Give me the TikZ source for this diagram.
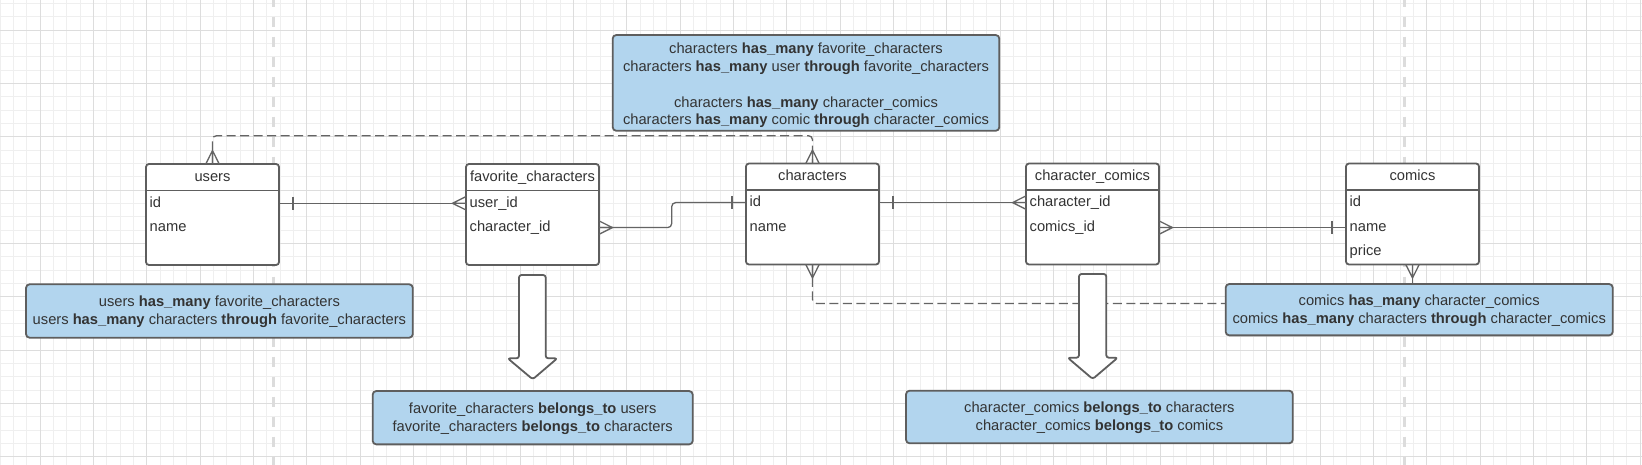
\documentclass[tikz,border=0pt]{standalone}
\usepackage{fontspec}
\setmainfont{Liberation Sans}
\usetikzlibrary{calc}
\definecolor{gridminor}{HTML}{EFEFEF}
\definecolor{gridmajor}{HTML}{DDDDDD}
\definecolor{sepcol}{HTML}{DCDCDC}
\definecolor{bord}{HTML}{5E5E5E}
\definecolor{conncol}{HTML}{646464}
\definecolor{notefill}{HTML}{B2D5EE}
\definecolor{txt}{HTML}{333333}
\pgfdeclarelayer{bg}
\pgfsetlayers{bg,main}
\newcommand{\erdtable}[5]{%
  \node[tbl] (#1) at (#2,#3) {};
  \draw[tblline] ($(#1.north west)+(0,26.5)$) -- ($(#1.north east)+(0,26.5)$);
  \node[anchor=base, inner sep=0pt] (#1-title) at ($(#1.north)+(0,17.4)$) {#4};
  \foreach \rowtext [count=\k] in {#5} {
    \node[anchor=base west, inner sep=0pt] (#1-r\k) at ($(#1.north west)+(3.5,18.8+24.5*\k)$) {\rowtext};
  }%
}
\begin{document}
\begin{tikzpicture}[x=1pt,y=-1pt,
  font=\fontsize{14.7}{17.8}\selectfont, text=txt,
  tbl/.style={draw=bord, line width=1.8pt, rounded corners=3pt, fill=white,
    minimum width=133pt, minimum height=101pt, anchor=north west, inner sep=0pt, outer sep=0pt},
  tblline/.style={draw=bord, line width=1.8pt},
  note/.style={draw=bord, line width=1.8pt, rounded corners=3.5pt, fill=notefill,
    inner sep=0pt, outer sep=0pt},
  notetext/.style={align=center, inner sep=0pt},
  connline/.style={draw=conncol, line width=1.3pt},
  dashconn/.style={draw=conncol, line width=1.3pt, dash pattern=on 9pt off 4.5pt},
  blockarrow/.style={draw=bord, fill=white, line width=1.8pt, rounded corners=2.5pt, line join=round},
  manyW/.pic={\draw[connline] (0,-6.7) -- (-13.5,0) -- (0,6.7) (0,0) -- (-13.5,0);},
  manyE/.pic={\draw[connline] (0,-6.7) -- (13.5,0) -- (0,6.7) (0,0) -- (13.5,0);},
  manyN/.pic={\draw[connline] (-6.7,0) -- (0,-13.5) -- (6.7,0) (0,0) -- (0,-13.5);},
  manyS/.pic={\draw[connline] (-6.7,0) -- (0,13.5) -- (6.7,0) (0,0) -- (0,13.5);},
  oneW/.pic={\draw[connline] (-14,-6.7) -- (-14,6.7);},
  oneE/.pic={\draw[connline] (14,-6.7) -- (14,6.7);}
]
\useasboundingbox (0,0) rectangle (1642,465);

% ---------- background grid ----------
\begin{pgfonlayer}{bg}
  \fill[white] (0,0) rectangle (1642,465);
  \begin{scope}
    \clip (0,0) rectangle (1642,465);
    \foreach \i in {0,...,124} {\draw[gridminor, line width=0.9pt] (\i*13.3333,0) -- (\i*13.3333,465);}
    \foreach \i in {0,...,35} {\draw[gridminor, line width=0.9pt] (0,3.3333+\i*13.3333) -- (1642,3.3333+\i*13.3333);}
    \foreach \i in {0,...,30} {\draw[gridmajor, line width=0.9pt] (40+\i*53.3333,0) -- (40+\i*53.3333,465);}
    \foreach \i in {0,...,8} {\draw[gridmajor, line width=0.9pt] (0,30+\i*53.3333) -- (1642,30+\i*53.3333);}
    \draw[sepcol, line width=2.7pt, dash pattern=on 10pt off 10pt] (273.3,-3.33) -- (273.3,470);
    \draw[sepcol, line width=2.7pt, dash pattern=on 10pt off 10pt] (1404.7,-3.33) -- (1404.7,470);
  \end{scope}
\end{pgfonlayer}

% ---------- tables ----------
\erdtable{users}{146}{164}{users}{id,name}
\erdtable{fav}{466}{164}{favorite\_characters}{user\_id,character\_id}
\erdtable{chars}{746}{163.5}{characters}{id,name}
\erdtable{cc}{1026}{163.5}{character\_comics}{character\_id,comics\_id}
\erdtable{comics}{1346}{163.5}{comics}{id,name,price}

% ---------- notes ----------
\node[note, minimum width=386.6pt, minimum height=95.7pt] (topnote) at (806,82.9) {};
\node[notetext] (topnote-t) at ($(topnote.center)+(0,2.6)$)
  {characters \textbf{has\_many} favorite\_characters\\
   characters \textbf{has\_many} user \textbf{through} favorite\_characters\\
   \mbox{}\\
   characters \textbf{has\_many} character\_comics\\
   characters \textbf{has\_many} comic \textbf{through} character\_comics};
\node[note, minimum width=386.7pt, minimum height=53.4pt] (usersnote) at (219.4,311) {};
\node[notetext] (usersnote-t) at ($(usersnote.center)+(0,1.1)$)
  {users \textbf{has\_many} favorite\_characters\\
   users \textbf{has\_many} characters \textbf{through} favorite\_characters};
\node[note, minimum width=387pt, minimum height=51.3pt] (comicsnote) at (1419.2,309.7) {};
\node[notetext] (comicsnote-t) at ($(comicsnote.center)+(0,1.1)$)
  {comics \textbf{has\_many} character\_comics\\
   comics \textbf{has\_many} characters \textbf{through} character\_comics};
\node[note, minimum width=320pt, minimum height=53.3pt] (favnote) at (532.7,417.7) {};
\node[notetext] (favnote-t) at ($(favnote.center)+(0,1.1)$)
  {favorite\_characters \textbf{belongs\_to} users\\
   favorite\_characters \textbf{belongs\_to} characters};
\node[note, minimum width=386.7pt, minimum height=52.6pt] (ccnote) at (1099.4,417) {};
\node[notetext] (ccnote-t) at ($(ccnote.center)+(0,1.1)$)
  {character\_comics \textbf{belongs\_to} characters\\
   character\_comics \textbf{belongs\_to} comics};

% ---------- connectors ----------
\coordinate (ya) at (0,203.3);
\coordinate (yb) at (0,227.6);
\coordinate (yc) at (0,202.6);
\coordinate (yd) at (0,227.6);
\coordinate (ytop) at (0,135.7);
\coordinate (ybot) at (0,303.5);
\begin{pgfonlayer}{bg}
  \draw[connline] (users.east |- ya) -- (fav.west |- ya);
  \draw[connline, rounded corners=4pt] (fav.east |- yb) -- (671.7,227.6) -- (671.7,202.6) -- (chars.west |- yc);
  \draw[connline] (chars.east |- yc) -- (cc.west |- yc);
  \draw[connline] (cc.east |- yd) -- (comics.west |- yd);
  \draw[dashconn, rounded corners=4pt] (users.north) -- (users.north |- ytop) -| (chars.north);
  \draw[dashconn, rounded corners=4pt] (chars.south) -- (chars.south |- ybot) -- (comicsnote.west |- ybot);
  \draw[connline] (comics.south) -- (comics.south |- comicsnote.north);
\end{pgfonlayer}

% ---------- cardinality marks ----------
\pic at (users.north) {manyN};
\pic at (chars.north) {manyN};
\pic at (chars.south) {manyS};
\pic at (comics.south) {manyS};
\pic at (users.east |- ya) {oneE};
\pic at (fav.west |- ya) {manyW};
\pic at (fav.east |- yb) {manyE};
\pic at (chars.west |- yc) {oneW};
\pic at (chars.east |- yc) {oneE};
\pic at (cc.west |- yc) {manyW};
\pic at (cc.east |- yd) {manyE};
\pic at (comics.west |- yd) {oneW};

% ---------- block arrows ----------
\draw[blockarrow] (519,358.3) -- (519,275) -- (545.7,275) -- (545.7,358.3) -- (557.3,358.3)
  -- (532.7,379.3) -- (507.7,358.3) -- cycle;
\draw[blockarrow] (1079,357.7) -- (1079,274) -- (1106.3,274) -- (1106.3,357.7) -- (1117.7,357.7)
  -- (1092.7,379) -- (1067.7,357.7) -- cycle;
\end{tikzpicture}
\end{document}
